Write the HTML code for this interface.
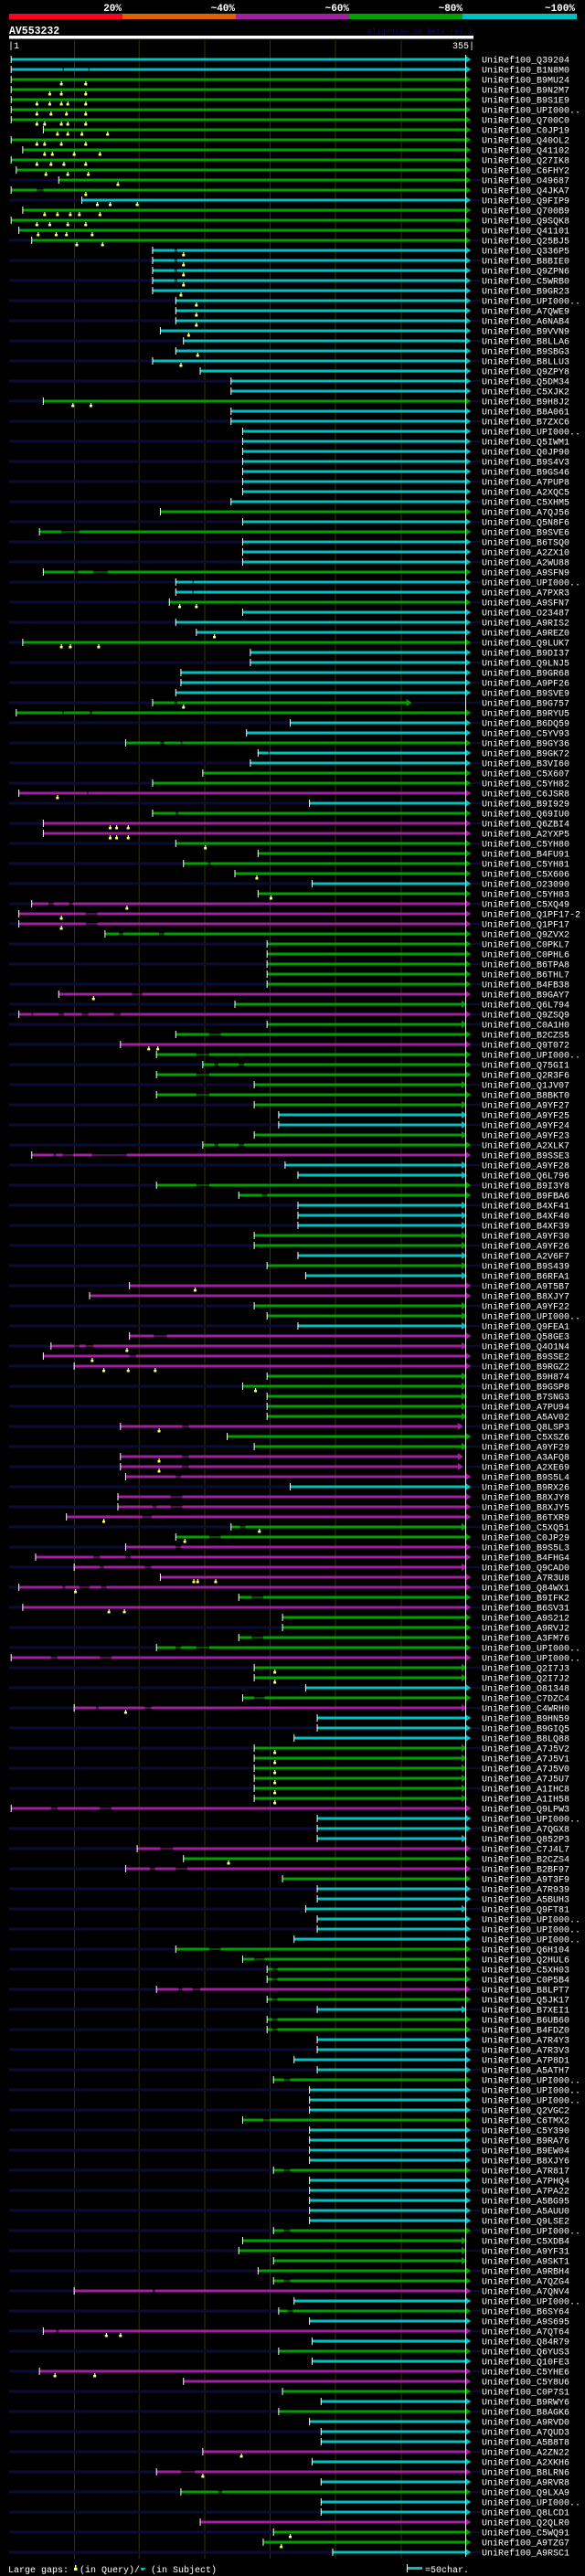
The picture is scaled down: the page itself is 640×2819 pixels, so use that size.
<!DOCTYPE html>
<html><head><meta charset="utf-8"><title>AV553232 AlignView</title>
<style>
html,body{margin:0;padding:0;background:#000;}
svg{display:block;}
text{font-family:"Liberation Mono","DejaVu Sans Mono",monospace;}
</style></head>
<body>
<svg id="chart" width="640" height="2819" viewBox="0 0 640 2819" xmlns="http://www.w3.org/2000/svg">
<rect x="0" y="0" width="640" height="2819" fill="#000"/>
<g>
<rect x="10" y="15" width="124" height="6" fill="#ff0022"/>
<rect x="134" y="15" width="124" height="6" fill="#e06000"/>
<rect x="258" y="15" width="124" height="6" fill="#a020a0"/>
<rect x="382" y="15" width="124" height="6" fill="#00a000"/>
<rect x="506" y="15" width="125" height="6" fill="#00c0c0"/>
<text x="133" y="12" text-anchor="end" font-size="11" font-weight="bold" fill="#fff">20%</text>
<text x="257" y="12" text-anchor="end" font-size="11" font-weight="bold" fill="#fff">~40%</text>
<text x="382" y="12" text-anchor="end" font-size="11" font-weight="bold" fill="#fff">~60%</text>
<text x="506" y="12" text-anchor="end" font-size="11" font-weight="bold" fill="#fff">~80%</text>
<text x="629" y="12" text-anchor="end" font-size="11" font-weight="bold" fill="#fff">~100%</text>
</g>
<text x="10" y="37" font-size="11.5" font-weight="bold" fill="#fff">AV553232</text>
<text x="402" y="37" font-size="8" fill="#101060" textLength="115">AlignView.pm Beta rel.7</text>
<rect x="10" y="39" width="508" height="3.5" fill="#fff"/>
<text x="9" y="53" font-size="10" fill="#fff">|1</text>
<text x="519" y="53" text-anchor="end" font-size="10" fill="#fff">355|</text>
<g id="grid"></g>
<g id="rows"></g>
<line x1="509.5" y1="60" x2="509.5" y2="2798" stroke="#fff" stroke-width="1"/>
<g>
<text x="9" y="2815" font-size="10" fill="#fff">Large gaps: <tspan fill="#000">▲</tspan>(in Query)/- (in Subject)</text>
<rect x="82" y="2807" width="1.5" height="3" fill="#ffff70"/>
<rect x="81" y="2810" width="3.5" height="3" fill="#ffff70"/>
<rect x="154" y="2810" width="5" height="1.5" fill="#00c0c0"/>
<rect x="445" y="2806" width="1" height="9" fill="#fff"/>
<rect x="446" y="2809" width="16" height="3" fill="#00c0c0"/>
<text x="465" y="2815" font-size="10" fill="#fff">=50char.</text>
</g>
</svg>
<script>
// Grid lines (every 50 chars)
const gridX = [81.6, 152.2, 224, 295.5, 367, 439];
// Row data: [label, color, start, end, hasOverhang, subjectGaps, queryGapMarks]
const rows = [
["Q39204","c",1,355,0,[],[]],
["B1N8M0","c",1,355,0,[[41,42],[61,62]],[]],
["B9MU24","g",1,355,0,[],[40,59]],
["B9N2M7","g",1,355,0,[],[31,40,59]],
["B9S1E9","g",1,355,0,[],[21,31,40,45,59]],
["UPI000..","g",1,355,0,[],[21,32,44,59]],
["Q700C0","g",1,355,0,[],[21,27,40,45,59]],
["C0JP19","g",26,355,0,[],[37,45,56,76]],
["Q40OL2","g",1,355,0,[],[21,27,40,59]],
["Q41102","g",10,355,0,[],[27,33,50,70]],
["Q27IK8","g",1,355,0,[],[21,32,42,59]],
["C6FHY2","g",5,355,0,[],[28,45,61]],
["O49687","g",38,355,1,[],[84]],
["Q4JKA7","g",1,355,0,[[21,26]],[59]],
["Q9FIP9","c",56,355,1,[],[68,78,99]],
["Q700B9","g",10,355,0,[],[27,37,47,54,70]],
["Q9SQK8","g",1,355,0,[],[21,31,45,59]],
["Q41101","g",7,355,0,[],[22,36,44,64]],
["Q25BJ5","g",17,355,1,[],[52,72]],
["Q336P5","c",111,355,0,[[128,130]],[135]],
["B8BIE0","c",111,355,1,[[128,130]],[135]],
["Q9ZPN6","c",111,355,0,[[128,130]],[135]],
["C5WRB0","c",111,355,1,[[128,130]],[135]],
["B9GR23","c",111,355,0,[],[133]],
["UPI000..","c",129,355,1,[],[145]],
["A7QWE9","c",129,355,0,[],[145]],
["A6NAB4","c",129,355,1,[],[145]],
["B9VVN9","c",117,355,0,[],[139]],
["B8LLA6","c",135,355,1,[],[]],
["B9SBG3","c",129,355,0,[],[146]],
["B8LLU3","c",111,355,1,[],[133]],
["Q9ZPY8","c",148,355,0,[],[]],
["Q5DM34","c",172,355,1,[],[]],
["C5XJK2","c",172,355,0,[],[]],
["B9H8J2","g",26,355,1,[],[49,63]],
["B8A061","c",172,355,0,[],[]],
["B7ZXC6","c",172,355,1,[],[]],
["UPI000..","c",181,355,0,[],[]],
["Q5IWM1","c",181,355,1,[],[]],
["Q0JP90","c",181,355,0,[],[]],
["B9S4V3","c",181,355,1,[],[]],
["B9GS46","c",181,355,0,[],[]],
["A7PUP8","c",181,355,1,[],[]],
["A2XQC5","c",181,355,0,[],[]],
["C5XHM5","c",172,355,1,[],[]],
["A7QJ56","g",117,355,0,[],[]],
["Q5N8F6","c",181,355,1,[],[]],
["B9SVE6","g",23,355,0,[[40,54]],[]],
["B6TSQ0","c",181,355,1,[],[]],
["A2ZX10","c",181,355,0,[],[]],
["A2WU88","c",181,355,1,[],[]],
["A9SFN9","g",26,355,0,[[50,53],[65,76]],[]],
["UPI000..","c",129,355,1,[[142,143]],[]],
["A7PXR3","c",129,355,0,[[142,143]],[]],
["A9SFN7","g",124,355,1,[],[132,145]],
["O23487","c",181,355,0,[],[]],
["A9RIS2","c",129,355,1,[],[]],
["A9REZ0","c",145,355,0,[],[159]],
["Q9LUK7","g",10,355,1,[],[40,47,69]],
["B9DI37","c",187,355,0,[],[]],
["Q9LNJ5","c",187,355,1,[],[]],
["B9GR68","c",133,355,0,[],[]],
["A9PF26","c",133,355,1,[],[]],
["B9SVE9","c",129,355,0,[],[]],
["B9G757","g",111,309,1,[[128,130]],[135]],
["B9RYU5","g",5,355,0,[[41,42],[62,64]],[]],
["B6DQ59","c",218,355,1,[],[]],
["C5YV93","c",184,355,0,[],[]],
["B9GY36","g",90,355,1,[[117,120],[133,134]],[]],
["B9GK72","c",193,355,0,[[201,202]],[]],
["B3VI60","c",187,355,1,[],[]],
["C5X607","g",150,355,0,[],[]],
["C5YH82","g",111,355,1,[],[]],
["C6JSR8","p",7,355,0,[[60,61]],[37]],
["B9I929","c",233,355,1,[],[]],
["Q69IU0","g",111,355,0,[[129,131]],[]],
["Q6ZBI4","p",26,355,1,[],[78,83,92]],
["A2YXP5","p",26,355,0,[],[78,83,92]],
["C5YH80","g",129,355,1,[],[152]],
["B4FU91","g",193,355,0,[],[]],
["C5YH81","g",135,355,1,[[154,156]],[]],
["C5X606","g",175,355,0,[],[192]],
["O23090","c",235,355,1,[],[]],
["C5YH83","g",193,355,0,[],[203]],
["C5XQ49","p",17,355,1,[[30,34],[46,49]],[91]],
["Q1PF17-2","p",7,355,0,[[59,68]],[40]],
["Q1PF17","p",7,355,1,[[59,68]],[40]],
["Q9ZVX2","g",74,355,0,[[85,88],[116,120]],[]],
["C0PKL7","g",200,355,1,[],[]],
["C0PHL6","g",200,355,0,[],[]],
["B6TPA8","g",200,355,1,[],[]],
["B6THL7","g",200,355,0,[],[]],
["B4FB38","g",200,355,1,[],[]],
["B9GAY7","p",38,355,0,[[95,103]],[65]],
["Q6L794","g",175,352,1,[],[]],
["Q9ZSQ9","p",7,355,1,[[17,18],[38,42],[56,61],[81,86]],[]],
["C0A1H0","g",200,352,1,[],[]],
["B2CZS5","g",129,355,0,[[155,164]],[]],
["Q9T072","p",86,355,1,[],[108,115]],
["UPI000..","g",114,355,0,[[145,155]],[]],
["Q75GI1","g",150,355,1,[[159,162],[178,182]],[]],
["Q2R3F6","g",114,355,0,[[145,155]],[]],
["Q1JV07","g",190,352,1,[],[]],
["B8BKT0","g",114,355,0,[[145,155]],[]],
["A9YF27","g",190,352,1,[],[]],
["A9YF25","c",209,352,0,[],[]],
["A9YF24","c",209,352,1,[],[]],
["A9YF23","g",190,352,0,[],[]],
["A2XLK7","g",150,355,1,[[159,162],[178,182]],[]],
["B9SSE3","p",17,355,0,[[34,36],[41,49],[64,91]],[]],
["A9YF28","c",214,352,1,[],[]],
["Q6L796","c",224,352,0,[],[]],
["B9I3Y8","g",114,355,1,[[145,155]],[]],
["B9FBA6","g",178,355,0,[[196,200]],[]],
["B4XF41","c",224,352,1,[],[]],
["B4XF40","c",224,352,0,[],[]],
["B4XF39","c",224,352,1,[],[]],
["A9YF30","g",190,352,0,[],[]],
["A9YF26","g",190,352,1,[],[]],
["A2V6F7","c",224,352,0,[],[]],
["B9S439","g",200,352,1,[],[]],
["B6RFA1","c",230,352,0,[],[]],
["A9T5B7","p",93,355,1,[],[144]],
["B8XJY7","p",62,355,0,[],[]],
["A9YF22","g",190,352,1,[],[]],
["UPI000..","g",200,352,0,[],[]],
["Q9FEA1","c",224,352,1,[],[]],
["Q58GE3","p",93,355,0,[[112,122]],[]],
["Q4O1N4","p",32,352,1,[[50,54],[59,65]],[91]],
["B9SSE2","p",26,355,0,[[93,98]],[64]],
["B9RGZ2","p",50,355,1,[],[73,92,113]],
["B9H874","g",200,352,0,[],[]],
["B9GSP8","g",181,352,1,[],[191]],
["B7SNG3","g",200,352,0,[],[]],
["A7PU94","g",200,352,1,[],[]],
["A5AV02","g",200,352,0,[],[]],
["Q8LSP3","p",86,349,1,[[134,139]],[116]],
["C5XSZ6","g",169,355,0,[],[]],
["A9YF29","g",190,352,1,[],[]],
["A3AFQ8","p",86,349,0,[[134,139]],[116]],
["A2XE69","p",86,349,1,[[134,139]],[116]],
["B9S5L4","p",90,355,0,[[129,133]],[]],
["B9RX26","c",218,355,1,[],[]],
["B8XJY8","p",84,355,0,[[125,134]],[]],
["B8XJY5","p",84,355,1,[[111,114],[125,134]],[]],
["B6TXR9","p",44,355,0,[[103,110]],[73]],
["C5XQ51","g",172,352,1,[[179,183]],[194]],
["C0JP29","g",129,355,0,[[155,164]],[136]],
["B9S5L3","p",90,355,1,[[129,133]],[]],
["B4FHG4","p",20,355,0,[[65,70],[90,94]],[]],
["Q9CAD0","p",50,352,1,[[70,73],[105,110]],[]],
["A7R3U8","p",117,355,0,[],[143,146,160]],
["Q84WX1","p",7,355,1,[[41,43],[54,62],[71,75]],[51]],
["B9IFK2","g",178,355,0,[[188,197]],[]],
["B6SV31","p",10,355,1,[],[77,89]],
["A9S212","g",212,355,0,[],[]],
["A9RVJ2","g",212,355,1,[],[]],
["A3FM76","g",178,355,0,[[188,197]],[]],
["UPI000..","g",114,355,1,[[129,133],[145,155]],[]],
["UPI000..","p",1,355,0,[[32,37],[70,79]],[]],
["Q2I7J3","g",190,352,1,[],[206]],
["Q2I7J2","g",190,352,0,[],[206]],
["O81348","c",230,355,1,[],[]],
["C7DZC4","g",181,355,0,[[190,198]],[]],
["C4WRH0","p",50,352,1,[[67,69],[105,110]],[90]],
["B9HN59","c",239,355,0,[],[]],
["B9GIQ5","c",239,355,1,[],[]],
["B8LQ88","c",221,355,0,[],[]],
["A7J5V2","g",190,352,1,[],[206]],
["A7J5V1","g",190,352,0,[],[206]],
["A7J5V0","g",190,352,1,[],[206]],
["A7J5U7","g",190,352,0,[],[206]],
["A1IHC8","g",190,352,1,[],[206]],
["A1IH58","g",190,352,0,[],[206]],
["Q9LPW3","p",1,355,0,[[32,37],[70,79]],[]],
["UPI000..","c",239,355,0,[],[]],
["A7QGX8","c",239,355,1,[],[]],
["Q852P3","c",239,352,0,[],[]],
["C7J4L7","p",99,355,1,[[117,127]],[]],
["B2CZS4","g",135,355,0,[],[170]],
["B2BF97","p",90,355,1,[[109,113],[129,138]],[]],
["A9T3F9","g",212,355,0,[],[]],
["A7R939","c",239,355,1,[],[]],
["A5BUH3","c",239,355,0,[],[]],
["Q9FT81","c",230,352,1,[],[]],
["UPI000..","c",239,355,0,[],[]],
["UPI000..","c",239,355,1,[],[]],
["UPI000..","c",221,355,0,[],[]],
["Q6H104","g",129,355,1,[[155,164]],[]],
["Q2HUL6","g",181,355,0,[[190,198]],[]],
["C5XH03","g",200,355,1,[[204,208]],[]],
["C0P5B4","g",200,355,0,[[204,208]],[]],
["B8LPT7","p",114,355,1,[[131,134],[142,148]],[]],
["Q5JK17","g",200,355,0,[[204,208]],[]],
["B7XEI1","c",239,352,1,[],[]],
["B6UB60","g",200,355,0,[[204,208]],[]],
["B4FDZ0","g",200,355,1,[[204,208]],[]],
["A7R4Y3","c",239,355,0,[],[]],
["A7R3V3","c",239,355,1,[],[]],
["A7P8D1","c",221,355,0,[],[]],
["A5ATH7","c",239,355,1,[],[]],
["UPI000..","g",205,355,0,[[213,218]],[]],
["UPI000..","c",233,355,1,[],[]],
["UPI000..","c",233,355,0,[],[]],
["Q2VGC2","c",233,355,1,[],[]],
["C6TMX2","g",181,355,0,[[197,202]],[]],
["C5Y390","c",233,355,1,[],[]],
["B9RA76","c",233,355,0,[],[]],
["B9EW04","c",233,355,1,[],[]],
["B8XJY6","c",233,355,0,[],[]],
["A7R817","g",205,355,1,[[213,218]],[]],
["A7PHQ4","c",233,355,0,[],[]],
["A7PA22","c",233,355,1,[],[]],
["A5BG95","c",233,355,0,[],[]],
["A5AUU0","c",233,355,1,[],[]],
["Q9LSE2","c",233,355,0,[],[]],
["UPI000..","g",205,355,1,[[213,218]],[]],
["C5XDB4","g",181,352,0,[],[]],
["A9YF31","g",178,352,1,[],[]],
["A9SKT1","g",205,352,0,[],[]],
["A9RBH4","g",193,355,1,[],[]],
["A7QZG4","g",205,355,0,[[213,218]],[]],
["A7QNV4","p",50,355,1,[[111,113]],[]],
["UPI000..","c",221,355,0,[],[]],
["B6SY64","g",209,355,1,[[216,220]],[]],
["A9S695","c",233,355,0,[],[]],
["A7QT64","p",26,355,1,[[36,38]],[75,86]],
["Q84R79","c",235,355,0,[],[]],
["Q6YUS3","g",209,355,1,[],[]],
["Q10FE3","c",235,355,0,[],[]],
["C5YHE6","p",23,355,1,[],[35,66]],
["C5Y8U6","p",135,355,0,[],[]],
["C0P7S1","g",212,355,1,[],[]],
["B9RWY6","c",242,355,0,[],[]],
["B8AGK6","g",209,355,1,[],[]],
["A9RVD0","c",233,355,0,[],[]],
["A7QUD3","c",242,355,1,[],[]],
["A5B8T8","c",242,355,0,[],[]],
["A2ZN22","p",150,355,1,[],[180]],
["A2XKH6","c",235,355,0,[],[]],
["B8LRN6","p",114,355,1,[[133,144]],[150]],
["A9RVR8","c",242,355,0,[],[]],
["Q9LXA9","g",133,355,1,[[162,165]],[]],
["UPI000..","c",242,355,0,[],[]],
["Q8LCD1","c",242,355,1,[],[]],
["Q2QLR0","p",148,355,0,[],[]],
["C5WQ91","g",205,355,1,[],[218]],
["A9TZG7","g",197,355,0,[],[211]],
["A9RSC1","c",251,355,1,[],[]]
];
const colorMap = {c:"#00c0c0", g:"#00a000", p:"#a020a0"};

const NS = "http://www.w3.org/2000/svg";
function xPos(p){ return 12.2 + (p - 1) * 1.407; }
function yRow(i){ return 65 + i * 11; }
function mk(tag, attrs, parent){
  const el = document.createElementNS(NS, tag);
  for (const k in attrs) el.setAttribute(k, attrs[k]);
  parent.appendChild(el);
  return el;
}

const grid = document.getElementById('grid');
gridX.forEach(function(gx){
  const ln = mk('line', {x1:gx, y1:44, x2:gx, y2:2800, stroke:"#343400", "stroke-width":1}, grid);
  
  
});

const rowsG = document.getElementById('rows');
rows.forEach(function(r, i){
  const label = r[0], col = colorMap[r[1]], s = r[2], e = r[3], ext = r[4], gaps = r[5], marks = r[6];
  const y = yRow(i);
  const g = mk('g', {}, rowsG);
  
  
  const xs = xPos(s), xe = xPos(e);
  if (ext) {
    const l = mk('rect', {x:10, y:y-1.5, width:Math.max(0, xs-10), height:3, fill:"#0b0b36"}, g);
    
    
    const rr = mk('rect', {x:xe+5, y:y-1, width:Math.max(0, 526-xe-5), height:2, fill:"#0b0b36"}, g);
    
    
  }
  // aligned segments split by subject gaps
  let cur = s;
  const sorted = gaps.slice().sort(function(a,b){return a[0]-b[0];});
  sorted.forEach(function(gp){
    const seg = mk('rect', {x:xPos(cur), y:y-1.5, width:Math.max(0, xPos(gp[0])-xPos(cur)), height:3, fill:col}, g);
    
    
    const gl = mk('rect', {x:xPos(gp[0]), y:y-0.5, width:Math.max(0, xPos(gp[1])-xPos(gp[0])), height:1, fill:col}, g);
    
    
    cur = gp[1];
  });
  const last = mk('rect', {x:xPos(cur), y:y-1.5, width:Math.max(0, xe-xPos(cur)), height:3, fill:col}, g);
  
  
  const tri = mk('polygon', {points:(xe-1)+","+(y-4)+" "+(xe+5)+","+y+" "+(xe-1)+","+(y+4), fill:col}, g);
  
  
  const tick = mk('rect', {x:xs-0.5, y:y-4, width:1, height:8, fill:"#fff"}, g);
  
  
  marks.forEach(function(m){
    const mx = xPos(m);
    const st = mk('rect', {x:mx-0.5, y:y+2, width:1.2, height:2, fill:"#ffff70"}, g);
    
    
    const bx = mk('rect', {x:mx-1.5, y:y+4, width:3, height:2.5, fill:"#ffff70"}, g);
    
    
  });
  const t = mk('text', {x:527, y:y+3.5, "font-size":10, fill:"#fff"}, g);
  t.textContent = "UniRef100_" + label;
  
  
});
</script>
</body></html>
